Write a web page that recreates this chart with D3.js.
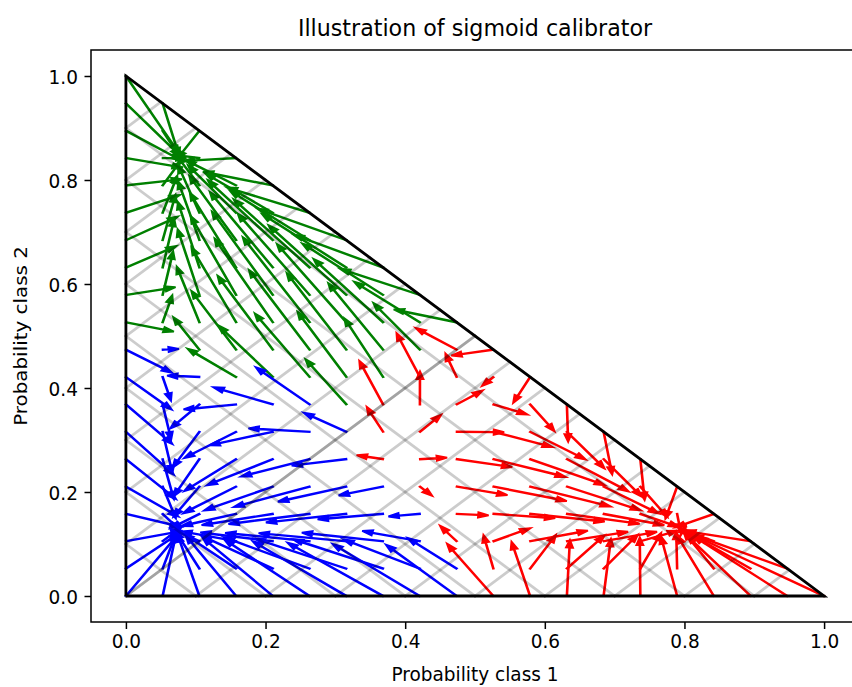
<!DOCTYPE html>
<html>
<head>
<meta charset="utf-8">
<title>Illustration of sigmoid calibrator</title>
<script src="https://cdn.jsdelivr.net/npm/d3@7"></script>
<style>
    body {
        margin: 0;
        background-color: #ffffff;
    }
    svg {
        display: block;
        font-family: "DejaVu Sans", sans-serif;
    }
</style>
</head>
<body>
<div id="chart"></div>
<script>
// uncalibrated probabilities on the grid (linspace 0..1, 20 points)
const probGrid = [0, 0.0526, 0.1053, 0.1579, 0.2105, 0.2632, 0.3158, 0.3684, 0.4211, 0.4737,
                  0.5263, 0.5789, 0.6316, 0.6842, 0.7368, 0.7895, 0.8421, 0.8947, 0.9474, 1];

// output of the sigmoid calibrator of each class at those grid values
const calClass1 = [0.080, 0.084, 0.094, 0.115, 0.150, 0.195, 0.255, 0.330, 0.430, 0.550,
                   0.675, 0.785, 0.866, 0.920, 0.954, 0.973, 0.985, 0.991, 0.995, 0.997];
const calClass2 = [0.127, 0.135, 0.148, 0.170, 0.204, 0.256, 0.329, 0.426, 0.538, 0.653,
                   0.756, 0.837, 0.896, 0.935, 0.961, 0.976, 0.986, 0.991, 0.995, 0.997];
const calClass3 = [0.076, 0.085, 0.101, 0.126, 0.165, 0.215, 0.280, 0.370, 0.500, 0.640,
                   0.759, 0.841, 0.899, 0.938, 0.962, 0.977, 0.986, 0.992, 0.995, 0.997];

// grid points where two classes tie: colour seen in the figure (0 red, 1 green, 2 blue)
const tieColours = { "1,9": 2, "5,7": 2, "9,1": 2, "8,3": 2 };

const classColors = ["#ff0000", "#008000", "#0000ff"];
const axisTicks = [0, 0.2, 0.4, 0.6, 0.8, 1.0];
const guideLevels = [0, 0.1, 0.2, 0.3, 0.4, 0.5, 0.6, 0.7, 0.8, 0.9, 1.0];

const W = 852, H = 687;
// the figure was stretched, so text is wider/taller by these factors
const sx = 1.331, sy = 1.431;

const svg = d3.select("#chart").append("svg")
    .attr("width", W)
    .attr("height", H);

const x = d3.scaleLinear().domain([-0.05, 1.05]).range([91, 859]);
const y = d3.scaleLinear().domain([-0.05, 1.05]).range([622, 50]);

svg.append("clipPath").attr("id", "plotArea")
    .append("rect")
    .attr("x", 91).attr("y", 50)
    .attr("width", 768).attr("height", 572);

const plot = svg.append("g").attr("clip-path", "url(#plotArea)");

// calibrated probabilities, renormalised to stay in the simplex
const arrows = [];
for (let i = 0; i < probGrid.length; i++) {
    for (let j = 0; j < probGrid.length; j++) {
        const k = probGrid.length - 1 - i - j;
        if (k < 0) continue;
        const p = [probGrid[i], probGrid[j], Math.max(0, 1 - probGrid[i] - probGrid[j])];
        const c = [calClass1[i], calClass2[j], calClass3[k]];
        const s = c[0] + c[1] + c[2];
        // argmax on the grid indices, first one wins on ties
        const idx = [i, j, k];
        let best = 0;
        if (idx[1] > idx[best]) best = 1;
        if (idx[2] > idx[best]) best = 2;
        const key = i + "," + j;
        if (key in tieColours) best = tieColours[key];
        arrows.push({ x: p[0], y: p[1], dx: c[0] / s - p[0], dy: c[1] / s - p[1], cls: best });
    }
}

// same outline as matplotlib's FancyArrow (head_width=0.01), in data units
function arrowOutline(a) {
    const L = Math.hypot(a.dx, a.dy);
    if (L === 0) return null;
    const hw = 0.01, hl = 0.015, lw = 0.001;
    const len = L + hl;
    const left = [[0, 0], [-hl, -hw / 2], [-hl, -lw / 2], [-len, -lw / 2], [-len, 0]]
        .map(d => [d[0] + hl, d[1]]);
    const right = left.slice(0, -1).reverse().map(d => [d[0], -d[1]]);
    const pts = left.slice(0, -1).concat(right);
    const cs = a.dx / L, sn = a.dy / L;
    return pts.map(d => [
        x(d[0] * cs - d[1] * sn + a.x + a.dx),
        y(d[0] * sn + d[1] * cs + a.y + a.dy)
    ]);
}

const line = d3.line();

plot.selectAll(".arrow")
    .data(arrows.filter(a => a.dx !== 0 || a.dy !== 0))
    .enter()
    .append("path")
    .attr("class", "arrow")
    .attr("d", a => line(arrowOutline(a)) + "Z")
    .attr("fill", a => classColors[a.cls])
    .attr("stroke", a => classColors[a.cls])
    .attr("stroke-width", 1.9)
    .attr("stroke-linejoin", "miter")
    .attr("stroke-miterlimit", 4);

// simplex border
plot.append("path")
    .attr("d", line([[0, 0], [1, 0], [0, 1], [0, 0]].map(d => [x(d[0]), y(d[1])])))
    .attr("fill", "none")
    .attr("stroke", "#000")
    .attr("stroke-width", 2.8);

// light guide lines
const guides = [];
guideLevels.forEach(v => {
    guides.push([[0, v], [v, 0]]);
    guides.push([[0, v], [(1 - v) / 2, v + (1 - v) / 2]]);
    guides.push([[v, 0], [v + (1 - v) / 2, (1 - v) / 2]]);
});
plot.selectAll(".guide")
    .data(guides)
    .enter()
    .append("path")
    .attr("class", "guide")
    .attr("d", g => line(g.map(d => [x(d[0]), y(d[1])])))
    .attr("fill", "none")
    .attr("stroke", "#000")
    .attr("stroke-opacity", 0.2)
    .attr("stroke-width", 2.8)
    .attr("stroke-linecap", "square");

// axes
const fmt = d3.format(".1f");
const xAxis = svg.append("g")
    .attr("transform", "translate(0,622)")
    .call(d3.axisBottom(x).tickValues(axisTicks).tickFormat(fmt).tickSize(7).tickSizeOuter(0));
const yAxis = svg.append("g")
    .attr("transform", "translate(91,0)")
    .call(d3.axisLeft(y).tickValues(axisTicks).tickFormat(fmt).tickSize(6.5).tickSizeOuter(0));

[xAxis, yAxis].forEach(ax => {
    ax.select(".domain").remove();
    ax.selectAll(".tick line").attr("stroke", "#000").attr("stroke-width", 1.5);
    ax.selectAll(".tick text")
        .attr("fill", "#000")
        .attr("font-size", 13.9)
        .attr("font-family", "DejaVu Sans, sans-serif");
});
xAxis.selectAll(".tick text")
    .attr("y", null).attr("dy", null)
    .attr("transform", `translate(0,26) scale(${sx},${sy})`);
yAxis.selectAll(".tick text")
    .attr("x", null).attr("dy", null)
    .attr("transform", `translate(-13,7) scale(${sx},${sy})`);

// frame
svg.append("rect")
    .attr("x", 91).attr("y", 50)
    .attr("width", 768).attr("height", 572)
    .attr("fill", "none")
    .attr("stroke", "#000")
    .attr("stroke-width", 1.5);

svg.append("text")
    .attr("transform", `translate(475,36) scale(${sx},${sy})`)
    .attr("text-anchor", "middle")
    .attr("font-size", 16.67)
    .text("Illustration of sigmoid calibrator");

svg.append("text")
    .attr("transform", `translate(475,681) scale(${sx},${sy})`)
    .attr("text-anchor", "middle")
    .attr("font-size", 13.9)
    .text("Probability class 1");

svg.append("text")
    .attr("transform", `translate(27,336) scale(${sx},${sy}) rotate(-90)`)
    .attr("text-anchor", "middle")
    .attr("font-size", 13.9)
    .text("Probability class 2");
</script>
</body>
</html>
